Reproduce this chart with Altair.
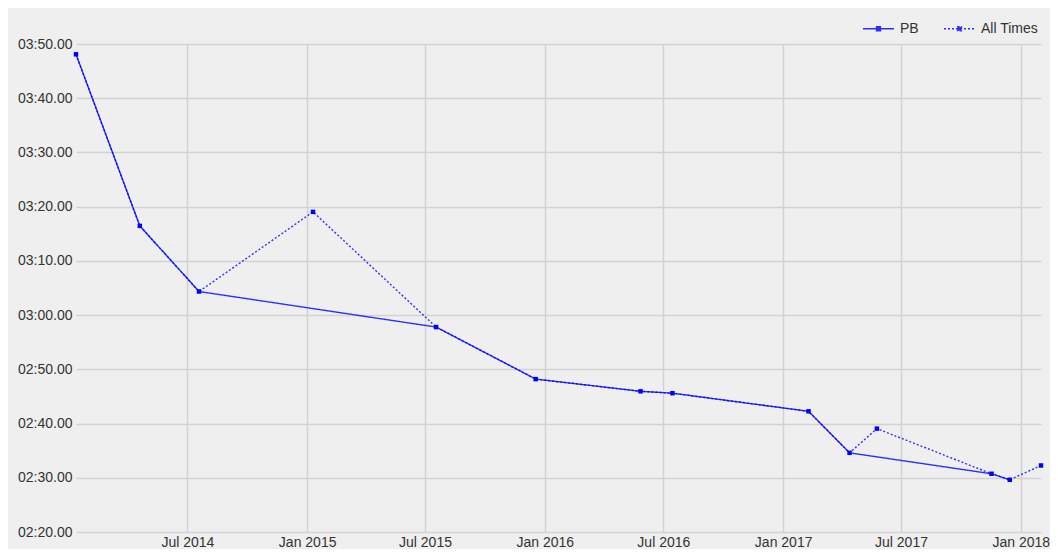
import altair as alt
import pandas as pd

# ---- data ----
dates = ["2014-01-11", "2014-04-19", "2014-07-19", "2015-01-10", "2015-07-18",
         "2015-12-18", "2016-05-27", "2016-07-15", "2017-02-09", "2017-04-13",
         "2017-05-25", "2017-11-17", "2017-12-15", "2018-02-01"]
all_times = [228.1, 196.45, 184.35, 199.04, 177.8, 168.2, 165.95, 165.6,
             162.26, 154.6, 159.06, 150.74, 149.63, 152.27]
is_pb = [True, True, True, False, True, True, True, True, True, True,
         False, True, True, False]
series_names = ["PB", "All Times"]
y_ticks = [140, 150, 160, 170, 180, 190, 200, 210, 220, 230]
x_ticks = [(2014, 7), (2015, 1), (2015, 7), (2016, 1), (2016, 7),
           (2017, 1), (2017, 7), (2018, 1)]

rows = []
for d, t, p in zip(dates, all_times, is_pb):
    rows.append({"date": d, "time": t, "series": "All Times"})
    if p:
        rows.append({"date": d, "time": t, "series": "PB"})
df = pd.DataFrame(rows)
pts = df[df["series"] == "All Times"]

BLUE = "#0000ff"
FONT = "Liberation Sans"
sym = "M-1,0L1,0M-0.13,-0.13L0.13,-0.13L0.13,0.13L-0.13,0.13Z"

x_enc = alt.X(
    "date:T",
    scale=alt.Scale(type="utc"),
    axis=alt.Axis(
        title=None,
        format="%b %Y",
        values=[alt.DateTime(year=y, month=m, date=1, utc=True) for y, m in x_ticks],
        labelPadding=3,
    ),
)
y_enc = alt.Y(
    "time:Q",
    scale=alt.Scale(domain=[140, 230], nice=False, zero=False),
    axis=alt.Axis(
        title=None,
        values=y_ticks,
        labelExpr="utcFormat(datum.value * 1000, '%M:%S') + '.00'",
        labelPadding=4,
    ),
)

lines = alt.Chart(df).mark_line(color=BLUE, strokeWidth=1.4, opacity=0.8).encode(
    x=x_enc,
    y=y_enc,
    strokeDash=alt.StrokeDash(
        "series:N",
        scale=alt.Scale(domain=series_names, range=[[1, 0], [2, 2]]),
        legend=alt.Legend(
            title=None,
            orient="none",
            legendX=786,
            legendY=-32,
            direction="horizontal",
            symbolType=sym,
            symbolSize=961,
            symbolStrokeColor=BLUE,
            symbolFillColor=BLUE,
            symbolStrokeWidth=1.3,
            labelFont=FONT,
            labelFontSize=14,
            labelColor="#333333",
            labelOffset=5,
            columnPadding=22,
        ),
    ),
)

points = alt.Chart(pts).mark_point(
    shape="square", filled=True, size=20, color=BLUE, opacity=1
).encode(x=x_enc, y=y_enc)

chart = (
    alt.layer(lines, points)
    .properties(
        width=965,
        height=488,
        autosize=alt.AutoSizeParams(type="none"),
        padding={"left": 68, "top": 36, "right": 9, "bottom": 17},
        background="#efefef",
    )
    .configure_view(stroke=None, fill="#efefef")
    .configure_axis(
        domain=False,
        ticks=False,
        labelFont=FONT,
        labelFontSize=14,
        labelColor="#333333",
        gridColor="#d2d2d2",
        gridWidth=1.5,
    )
)

chart.save("out.html", embed_options={"renderer": "svg", "actions": False})
